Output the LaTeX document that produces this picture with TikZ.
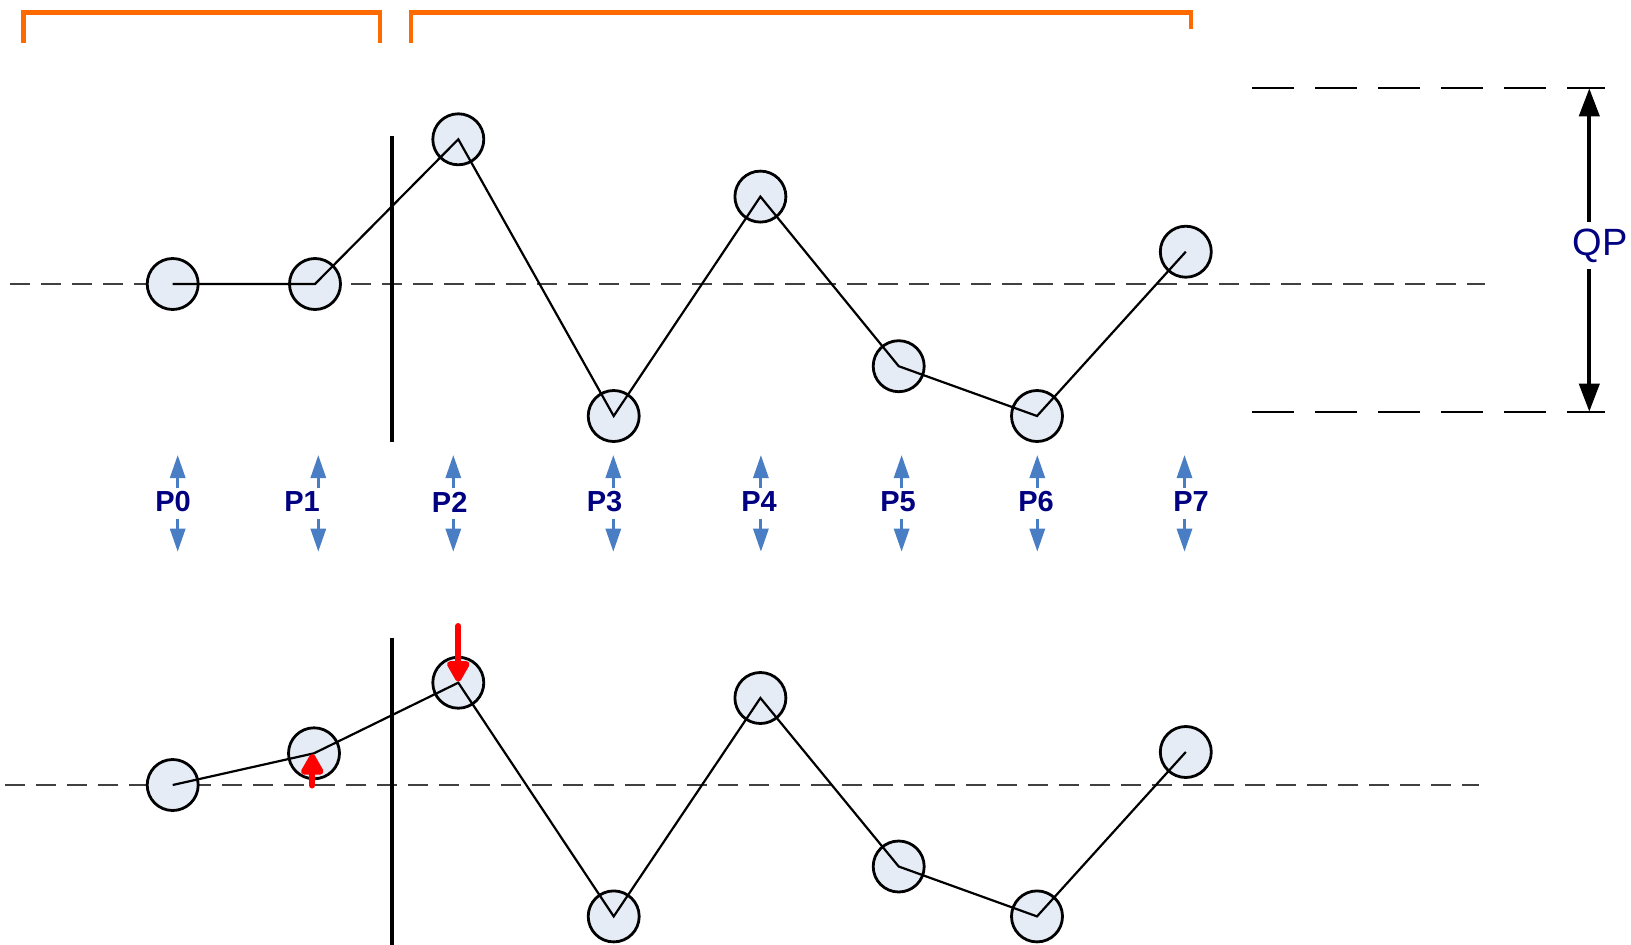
\documentclass[tikz,border=0pt]{standalone}
\usepackage{fontspec}
\setmainfont{Liberation Sans}
\usetikzlibrary{arrows.meta}
\definecolor{ptfill}{HTML}{E6ECF6}
\definecolor{bluearr}{HTML}{4A7EC4}
\definecolor{navytext}{HTML}{000080}
\definecolor{brk}{HTML}{FF6A00}
\definecolor{midgray}{HTML}{404040}
\tikzset{
  pt/.style={circle, draw=black, line width=2.8pt, fill=ptfill, minimum size=51pt, inner sep=0pt},
  trace/.style={draw=black, line width=2.2pt, line join=miter},
  midline/.style={draw=midgray, line width=2pt, dash pattern=on 20pt off 11pt},
  qpline/.style={draw=black, line width=2.2pt, dash pattern=on 42pt off 21pt},
  splitline/.style={draw=black, line width=4pt},
  bluearrow/.style={draw=bluearr, line width=3pt, -{Triangle[width=15pt,length=23pt]}, bluearr},
  redarrow/.style={draw=red, line width=6pt, line cap=round, -{Triangle[width=25pt,length=24pt,round]}, red},
  qparrow/.style={draw=black, line width=4pt, -{Triangle[width=20pt,length=28pt]}},
  bracket/.style={draw=brk, line width=4.5pt},
  plabel/.style={font=\fontsize{29pt}{31pt}\selectfont\bfseries, text=navytext, inner sep=0pt},
}
\begin{document}
\begin{tikzpicture}[x=1pt,y=-1pt]
\useasboundingbox (0,0) rectangle (1631,945);
% brackets
\draw[bracket] (23.7,42.7) -- (23.7,12.7) -- (380,12.7) -- (380,42.7);
\draw[bracket] (410.9,42.7) -- (410.9,12.7) -- (1191,12.7) -- (1191,29);
% dashed mid lines
\draw[midline] (10.4,284) -- (1485,284);
\draw[midline] (5,785) -- (1479,785);
% QP reference lines
\draw[qpline] (1252,88.3) -- (1605,88.3);
\draw[qpline] (1252,411.7) -- (1605,411.7);
% split lines
\draw[splitline] (392.3,136) -- (392.3,441.7);
\draw[splitline] (392.3,637.7) -- (392.3,945);
% top row circles
\node[pt] (a0) at (172.7,284) {};
\node[pt] (a1) at (315,284) {};
\node[pt] (a2) at (458.3,139.3) {};
\node[pt] (a3) at (613.7,416) {};
\node[pt] (a4) at (760.4,196.6) {};
\node[pt] (a5) at (898.7,366.2) {};
\node[pt] (a6) at (1037,416) {};
\node[pt] (a7) at (1185.8,251.7) {};
\draw[trace] (a0.center) -- (a1.center) -- (a2.center) -- (a3.center) -- (a4.center) -- (a5.center) -- (a6.center) -- (a7.center);
% bottom row circles
\node[pt] (b0) at (172.7,785) {};
\node[pt] (b1) at (314,753.3) {};
\node[pt] (b2) at (458.3,682.7) {};
\node[pt] (b3) at (613.7,916.4) {};
\node[pt] (b4) at (760.4,698) {};
\node[pt] (b5) at (898.7,866.5) {};
\node[pt] (b6) at (1037,916.4) {};
\node[pt] (b7) at (1185.8,752) {};
\draw[trace] (b0.center) -- (b1.center) -- (b2.center) -- (b3.center) -- (b4.center) -- (b5.center) -- (b6.center) -- (b7.center);
% red adjustment arrows
\coordinate (r1t) at (458.3,626);
\coordinate (r1h) at (458.3,681.7);
\coordinate (r2t) at (312.3,785.5);
\coordinate (r2h) at (312.3,754);
\draw[redarrow] (r1t) -- (r1h);
\draw[redarrow] (r2t) -- (r2h);
% labels and blue arrows
\foreach \n/\tx/\ax in {0/173/177.7, 1/302/318.3, 2/449.7/453.3, 3/604.5/613.3, 4/759/760.9, 5/898/901.6, 6/1036/1037.3, 7/1191/1184.5}{
  \node[plabel] (p\n) at (\tx,502) {P\n};
  \coordinate (u\n t) at (\ax,488);
  \coordinate (u\n h) at (\ax,455);
  \coordinate (d\n t) at (\ax,519);
  \coordinate (d\n h) at (\ax,551.7);
  \draw[bluearrow] (u\n t) -- (u\n h);
  \draw[bluearrow] (d\n t) -- (d\n h);
}
% QP dimension
\node[font=\fontsize{38pt}{40pt}\selectfont, text=navytext, inner sep=0pt] (qp) at (1600,246) {QP};
\coordinate (qpt1) at (1589.3,221.7);
\coordinate (qph1) at (1589.3,88.3);
\coordinate (qpt2) at (1589.3,269);
\coordinate (qph2) at (1589.3,411.7);
\draw[qparrow] (qpt1) -- (qph1);
\draw[qparrow] (qpt2) -- (qph2);
\end{tikzpicture}
\end{document}
